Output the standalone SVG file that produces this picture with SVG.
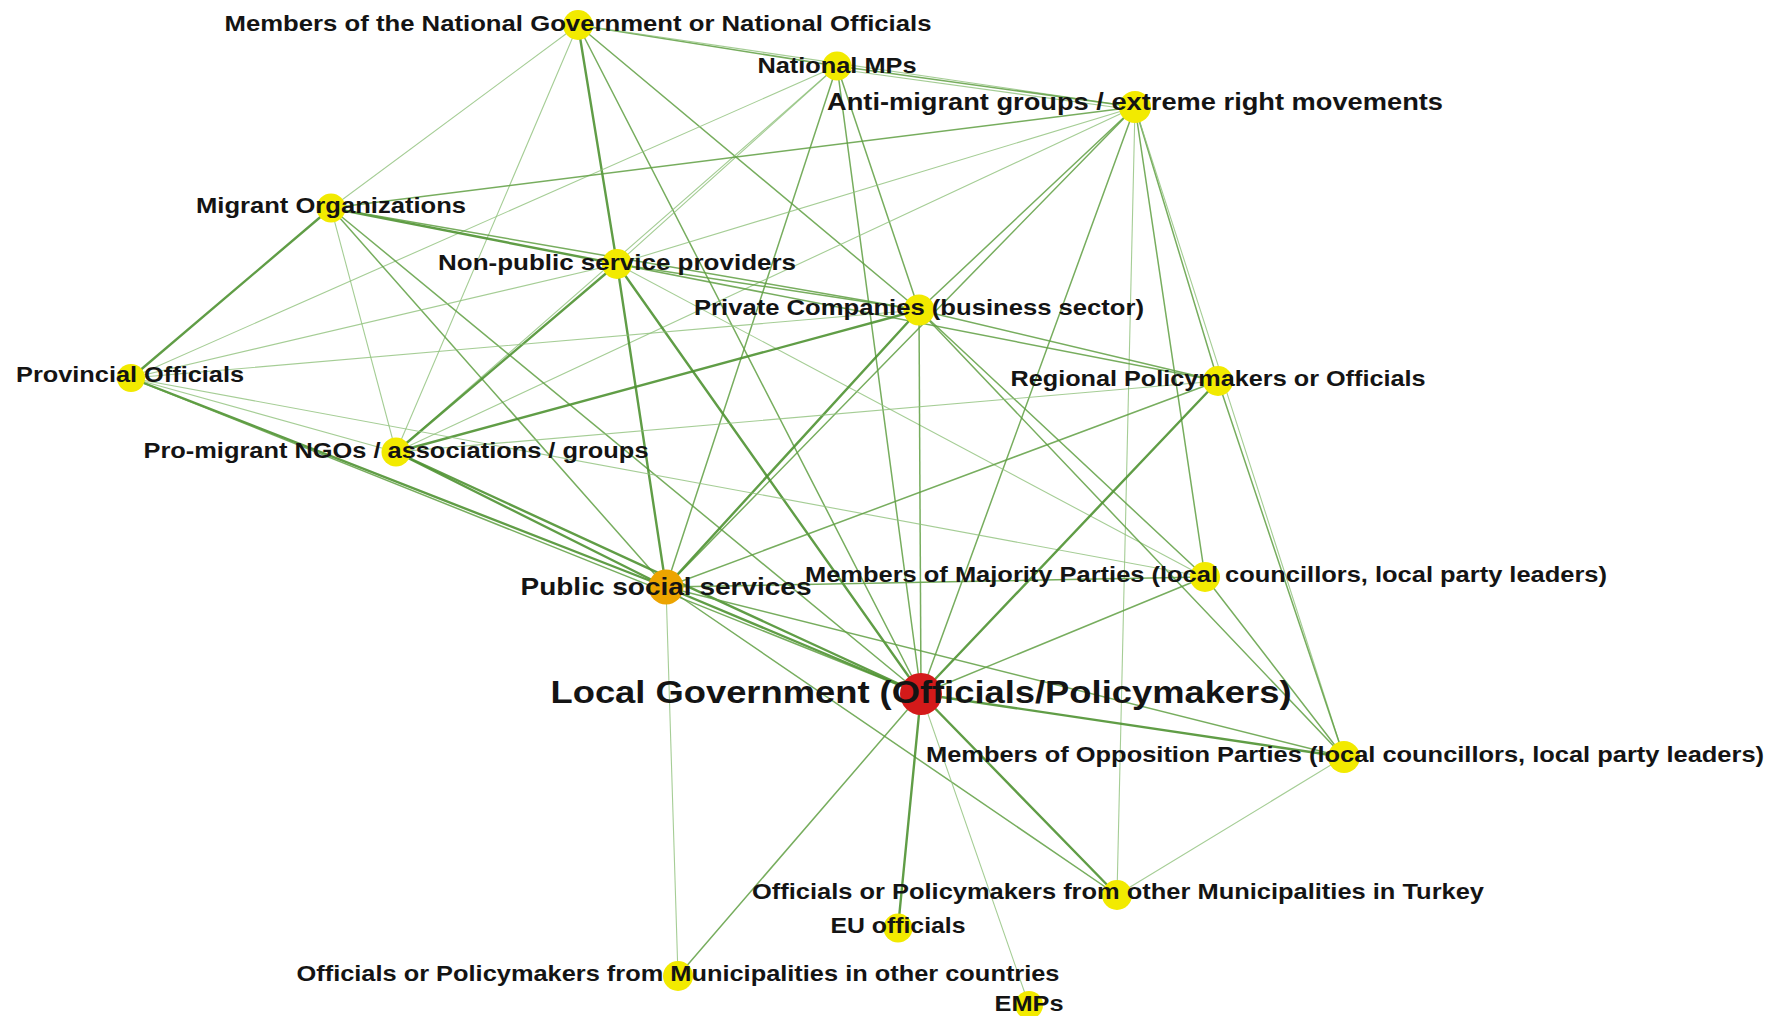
<svg xmlns="http://www.w3.org/2000/svg" width="1780" height="1016" viewBox="0 0 1780 1016">
<style>
.e line{stroke-linecap:round}
.t{stroke:#4f9232;stroke-width:2.4;stroke-opacity:0.9}
.m{stroke:#5f9f42;stroke-width:1.5;stroke-opacity:0.85}
.l{stroke:#8fc07a;stroke-width:1.1;stroke-opacity:0.8}
.y{fill:#f2ea00}
.lab{font-family:"Liberation Sans",Arial,sans-serif;font-weight:bold;font-size:22px;fill:#141414;text-anchor:middle}
</style>
<rect width="1780" height="1016" fill="#ffffff"/>
<g id="connectors" class="e">
<line class="m" x1="578" y1="25" x2="837" y2="66"/>
<line class="l" x1="578" y1="25" x2="1135" y2="107"/>
<line class="m" x1="837" y1="66" x2="1135" y2="107"/>
<line class="l" x1="837" y1="69" x2="1135" y2="110"/>
<line class="l" x1="578" y1="25" x2="331" y2="208"/>
<line class="l" x1="578" y1="25" x2="396" y2="452"/>
<line class="t" x1="578" y1="25" x2="617" y2="264"/>
<line class="m" x1="578" y1="25" x2="919" y2="310"/>
<line class="m" x1="578" y1="25" x2="921" y2="694"/>
<line class="l" x1="837" y1="66" x2="617" y2="264"/>
<line class="m" x1="837" y1="66" x2="919" y2="310"/>
<line class="l" x1="837" y1="66" x2="131" y2="378"/>
<line class="l" x1="837" y1="66" x2="396" y2="452"/>
<line class="m" x1="837" y1="66" x2="666" y2="587"/>
<line class="m" x1="837" y1="66" x2="921" y2="694"/>
<line class="m" x1="1135" y1="107" x2="331" y2="208"/>
<line class="l" x1="1135" y1="107" x2="617" y2="264"/>
<line class="l" x1="1135" y1="107" x2="396" y2="452"/>
<line class="m" x1="1135" y1="107" x2="919" y2="310"/>
<line class="m" x1="1135" y1="107" x2="666" y2="587"/>
<line class="m" x1="1135" y1="107" x2="921" y2="694"/>
<line class="m" x1="1135" y1="107" x2="1218" y2="381"/>
<line class="m" x1="1135" y1="107" x2="1205" y2="577"/>
<line class="l" x1="1135" y1="107" x2="1344" y2="757"/>
<line class="l" x1="1135" y1="107" x2="1117" y2="895"/>
<line class="t" x1="331" y1="208" x2="617" y2="264"/>
<line class="m" x1="331" y1="208" x2="919" y2="310"/>
<line class="t" x1="331" y1="208" x2="131" y2="378"/>
<line class="l" x1="331" y1="208" x2="396" y2="452"/>
<line class="m" x1="331" y1="208" x2="666" y2="587"/>
<line class="m" x1="331" y1="208" x2="921" y2="694"/>
<line class="m" x1="617" y1="264" x2="919" y2="310"/>
<line class="l" x1="617" y1="264" x2="131" y2="378"/>
<line class="t" x1="617" y1="264" x2="396" y2="452"/>
<line class="t" x1="617" y1="264" x2="666" y2="587"/>
<line class="t" x1="617" y1="264" x2="921" y2="694"/>
<line class="m" x1="617" y1="264" x2="1218" y2="381"/>
<line class="l" x1="617" y1="264" x2="1205" y2="577"/>
<line class="l" x1="919" y1="310" x2="131" y2="378"/>
<line class="m" x1="919" y1="310" x2="1218" y2="381"/>
<line class="t" x1="919" y1="310" x2="396" y2="452"/>
<line class="t" x1="919" y1="310" x2="666" y2="587"/>
<line class="m" x1="919" y1="310" x2="921" y2="694"/>
<line class="m" x1="919" y1="310" x2="1205" y2="577"/>
<line class="m" x1="919" y1="310" x2="1344" y2="757"/>
<line class="l" x1="131" y1="378" x2="396" y2="452"/>
<line class="t" x1="131" y1="378" x2="666" y2="587"/>
<line class="l" x1="131" y1="378" x2="1205" y2="577"/>
<line class="m" x1="131" y1="378" x2="921" y2="694"/>
<line class="l" x1="1218" y1="381" x2="396" y2="452"/>
<line class="m" x1="1218" y1="381" x2="666" y2="587"/>
<line class="t" x1="1218" y1="381" x2="921" y2="694"/>
<line class="m" x1="1218" y1="381" x2="1344" y2="757"/>
<line class="t" x1="396" y1="452" x2="666" y2="587"/>
<line class="t" x1="396" y1="452" x2="921" y2="694"/>
<line class="m" x1="666" y1="587" x2="1205" y2="577"/>
<line class="t" x1="666" y1="587" x2="921" y2="694"/>
<line class="m" x1="666" y1="587" x2="1344" y2="757"/>
<line class="m" x1="666" y1="587" x2="1117" y2="895"/>
<line class="l" x1="666" y1="587" x2="678" y2="976"/>
<line class="m" x1="1205" y1="577" x2="921" y2="694"/>
<line class="m" x1="1205" y1="577" x2="1344" y2="757"/>
<line class="t" x1="921" y1="694" x2="1344" y2="757"/>
<line class="t" x1="921" y1="694" x2="1117" y2="895"/>
<line class="t" x1="921" y1="694" x2="898" y2="928"/>
<line class="m" x1="921" y1="694" x2="678" y2="976"/>
<line class="l" x1="921" y1="694" x2="1029" y2="1005"/>
<line class="l" x1="1344" y1="757" x2="1117" y2="895"/>
</g>
<g id="n-natgov"><circle class="y" cx="578" cy="25" r="15"/><text class="lab" x="578" y="31" textLength="707" lengthAdjust="spacingAndGlyphs">Members of the National Government or National Officials</text></g>
<g id="n-natmps"><circle class="y" cx="837" cy="66" r="14.5"/><text class="lab" x="837" y="73" textLength="159" lengthAdjust="spacingAndGlyphs">National MPs</text></g>
<g id="n-antimig"><circle class="y" cx="1135" cy="107" r="16"/><text class="lab" x="1135" y="110" style="font-size:23.5px" textLength="616" lengthAdjust="spacingAndGlyphs">Anti-migrant groups / extreme right movements</text></g>
<g id="n-migorg"><circle class="y" cx="331" cy="208" r="14.5"/><text class="lab" x="331" y="213" textLength="270" lengthAdjust="spacingAndGlyphs">Migrant Organizations</text></g>
<g id="n-nonpub"><circle class="y" cx="617" cy="264" r="15"/><text class="lab" x="617" y="270" textLength="358" lengthAdjust="spacingAndGlyphs">Non-public service providers</text></g>
<g id="n-private"><circle class="y" cx="919" cy="310" r="15.5"/><text class="lab" x="919" y="315" textLength="450" lengthAdjust="spacingAndGlyphs">Private Companies (business sector)</text></g>
<g id="n-provincial"><circle class="y" cx="131" cy="378" r="14"/><text class="lab" x="130" y="382" textLength="228" lengthAdjust="spacingAndGlyphs">Provincial Officials</text></g>
<g id="n-regional"><circle class="y" cx="1218" cy="381" r="15"/><text class="lab" x="1218" y="386" textLength="415" lengthAdjust="spacingAndGlyphs">Regional Policymakers or Officials</text></g>
<g id="n-promig"><circle class="y" cx="396" cy="452" r="14.5"/><text class="lab" x="396" y="458" textLength="505" lengthAdjust="spacingAndGlyphs">Pro-migrant NGOs / associations / groups</text></g>
<g id="n-publicsoc"><circle cx="666" cy="587" r="17.5" fill="#eca400"/><text class="lab" x="666" y="595" style="font-size:24.5px" textLength="291" lengthAdjust="spacingAndGlyphs">Public social services</text></g>
<g id="n-majority"><circle class="y" cx="1205" cy="577" r="15"/><text class="lab" x="1206" y="582" textLength="802" lengthAdjust="spacingAndGlyphs">Members of Majority Parties (local councillors, local party leaders)</text></g>
<g id="n-localgov"><circle cx="921" cy="694" r="21" fill="#d41a1a"/><text class="lab" x="921" y="703" style="font-size:32px" textLength="741" lengthAdjust="spacingAndGlyphs">Local Government (Officials/Policymakers)</text></g>
<g id="n-opposition"><circle class="y" cx="1344" cy="757" r="16"/><text class="lab" x="1345" y="762" textLength="838" lengthAdjust="spacingAndGlyphs">Members of Opposition Parties (local councillors, local party leaders)</text></g>
<g id="n-turkey"><circle class="y" cx="1117" cy="895" r="15"/><text class="lab" x="1118" y="899" textLength="732" lengthAdjust="spacingAndGlyphs">Officials or Policymakers from other Municipalities in Turkey</text></g>
<g id="n-eu"><circle class="y" cx="898" cy="928" r="14.5"/><text class="lab" x="898" y="933" textLength="135" lengthAdjust="spacingAndGlyphs">EU officials</text></g>
<g id="n-othercountries"><circle class="y" cx="678" cy="976" r="15"/><text class="lab" x="678" y="981" textLength="763" lengthAdjust="spacingAndGlyphs">Officials or Policymakers from Municipalities in other countries</text></g>
<g id="n-emps"><circle class="y" cx="1029" cy="1005" r="14"/><text class="lab" x="1029" y="1011" textLength="69" lengthAdjust="spacingAndGlyphs">EMPs</text></g>
</svg>
